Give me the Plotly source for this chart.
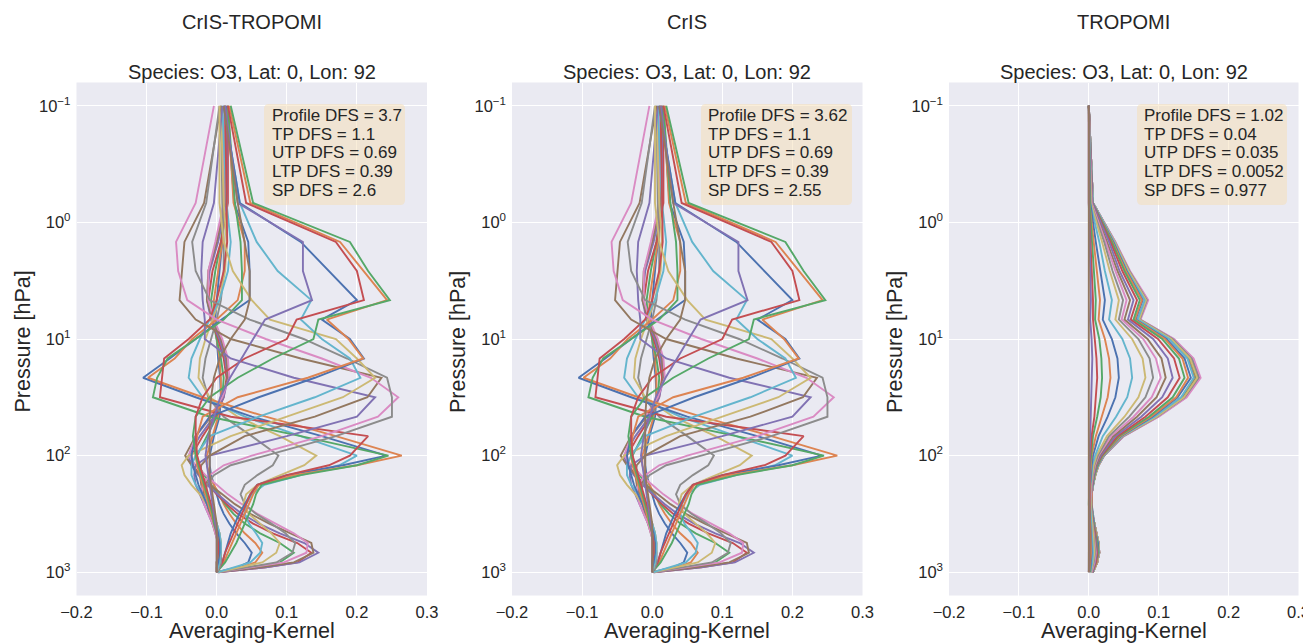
import plotly.graph_objects as go

# ---------------- data ----------------
pressure = [1000, 908, 825, 681, 562, 464, 383, 316, 261, 215, 178, 147, 121, 100,
            68.1, 46.4, 31.6, 21.5, 14.7, 10.0, 6.81, 4.64, 2.61, 1.47, 0.681, 0.1]

# CrIS averaging-kernel rows (values at each pressure level, surface -> top)
cris_r00 = [0.000, 0.030, 0.045, 0.050, 0.040, 0.028, 0.018, 0.010, 0.004, 0.000, -0.004, -0.008, -0.010, -0.010, -0.004, 0.004, 0.006, 0.005, 0.002, 0.000, -0.002, 0.000, 0.004, 0.008, 0.010, 0.010]
cris_r01 = [0.000, 0.035, 0.055, 0.065, 0.055, 0.040, 0.028, 0.018, 0.010, 0.004, -0.004, -0.010, -0.014, -0.014, -0.006, 0.002, 0.006, 0.006, 0.004, 0.000, -0.004, -0.004, 0.002, 0.008, 0.012, 0.012]
cris_r02 = [0.000, 0.055, 0.090, 0.110, 0.090, 0.062, 0.040, 0.024, 0.012, 0.002, -0.008, -0.018, -0.026, -0.028, -0.014, 0.000, 0.008, 0.010, 0.006, 0.000, -0.006, -0.008, -0.002, 0.006, 0.012, 0.014]
cris_r03 = [0.002, 0.070, 0.115, 0.135, 0.115, 0.080, 0.052, 0.030, 0.014, 0.000, -0.012, -0.024, -0.034, -0.036, -0.020, -0.002, 0.010, 0.014, 0.010, 0.002, -0.008, -0.012, -0.006, 0.006, 0.016, 0.016]
cris_r04 = [0.002, 0.070, 0.118, 0.145, 0.125, 0.090, 0.060, 0.036, 0.018, 0.002, -0.014, -0.026, -0.036, -0.040, -0.024, -0.004, 0.010, 0.016, 0.012, 0.004, -0.008, -0.014, -0.010, 0.002, 0.014, 0.014]
cris_r05 = [0.002, 0.062, 0.110, 0.138, 0.135, 0.105, 0.075, 0.048, 0.026, 0.008, -0.010, -0.024, -0.036, -0.045, -0.030, -0.008, 0.008, 0.016, 0.014, 0.006, -0.006, -0.014, -0.012, 0.000, 0.012, 0.012]
cris_r06 = [0.002, 0.052, 0.096, 0.128, 0.130, 0.110, 0.085, 0.058, 0.036, 0.016, 0.000, -0.016, -0.030, -0.040, -0.030, -0.010, 0.008, 0.018, 0.016, 0.008, -0.004, -0.012, -0.012, -0.002, 0.010, 0.010]
cris_r07 = [0.002, 0.045, 0.085, 0.108, 0.112, 0.098, 0.078, 0.056, 0.040, 0.034, 0.040, 0.058, 0.080, 0.088, 0.050, 0.010, -0.012, -0.020, -0.016, -0.008, 0.000, 0.006, 0.010, 0.010, 0.008, 0.006]
cris_r08 = [0.002, 0.035, 0.065, 0.085, 0.090, 0.078, 0.062, 0.046, 0.038, 0.042, 0.058, 0.090, 0.125, 0.142, 0.090, 0.030, -0.010, -0.026, -0.024, -0.016, -0.006, 0.004, 0.012, 0.014, 0.010, 0.006]
cris_r09 = [0.002, 0.025, 0.048, 0.062, 0.065, 0.056, 0.046, 0.040, 0.042, 0.050, 0.068, 0.120, 0.175, 0.200, 0.120, 0.040, -0.020, -0.040, -0.036, -0.024, -0.010, 0.004, 0.016, 0.020, 0.014, 0.008]
cris_r10 = [0.000, 0.004, 0.008, 0.012, 0.016, 0.020, 0.026, 0.032, 0.040, 0.048, 0.058, 0.100, 0.180, 0.242, 0.150, 0.050, -0.030, -0.105, -0.067, -0.030, 0.007, 0.047, 0.047, 0.045, 0.025, 0.015]
cris_r11 = [0.000, 0.005, 0.010, 0.016, 0.022, 0.028, 0.034, 0.040, 0.046, 0.052, 0.060, 0.110, 0.200, 0.264, 0.170, 0.070, -0.020, -0.098, -0.060, -0.035, 0.000, 0.030, 0.040, 0.040, 0.024, 0.016]
cris_r12 = [0.000, 0.006, 0.012, 0.020, 0.028, 0.034, 0.040, 0.046, 0.052, 0.056, 0.064, 0.120, 0.200, 0.245, 0.120, -0.010, -0.091, -0.085, -0.070, -0.030, 0.010, 0.036, 0.036, 0.034, 0.026, 0.016]
cris_r13 = [0.000, 0.004, 0.008, 0.012, 0.018, 0.024, 0.030, 0.036, 0.042, 0.048, 0.058, 0.100, 0.160, 0.190, 0.216, 0.020, -0.081, -0.078, -0.075, -0.040, -0.010, 0.000, 0.010, 0.015, 0.014, 0.012]
cris_r14 = [0.000, 0.004, 0.006, 0.006, 0.004, 0.000, -0.006, -0.012, -0.018, -0.024, -0.030, -0.032, -0.030, -0.010, 0.100, 0.200, 0.226, 0.110, 0.020, -0.017, -0.017, -0.020, -0.022, -0.020, -0.004, 0.008]
cris_r15 = [0.000, 0.002, 0.004, 0.004, 0.002, -0.002, -0.006, -0.010, -0.014, -0.018, -0.022, -0.024, -0.022, -0.010, 0.040, 0.140, 0.215, 0.235, 0.120, 0.020, -0.030, -0.053, -0.050, -0.046, -0.018, 0.006]
cris_r16 = [0.000, 0.002, 0.004, 0.004, 0.002, -0.002, -0.006, -0.012, -0.018, -0.022, -0.020, -0.010, 0.010, 0.050, 0.150, 0.230, 0.259, 0.220, 0.150, 0.070, 0.000, -0.042, -0.055, -0.058, -0.030, -0.004]
cris_r17 = [0.000, 0.004, 0.006, 0.006, 0.006, 0.004, 0.000, -0.006, -0.012, -0.016, -0.014, -0.004, 0.020, 0.070, 0.170, 0.250, 0.250, 0.243, 0.186, 0.124, 0.047, -0.010, -0.030, -0.035, -0.015, 0.004]
cris_r18 = [0.000, 0.002, 0.004, 0.006, 0.006, 0.004, 0.000, -0.006, -0.014, -0.024, -0.036, -0.046, -0.050, -0.040, 0.020, 0.100, 0.180, 0.226, 0.200, 0.170, 0.076, 0.050, 0.023, 0.010, 0.004, 0.004]
cris_r19 = [0.000, 0.002, 0.004, 0.006, 0.006, 0.004, 0.000, -0.006, -0.012, -0.020, -0.030, -0.036, -0.036, -0.030, -0.010, 0.060, 0.140, 0.205, 0.190, 0.150, 0.120, 0.135, 0.087, 0.057, 0.033, 0.010]
cris_r20 = [0.000, 0.000, 0.002, 0.004, 0.004, 0.002, -0.002, -0.008, -0.014, -0.020, -0.026, -0.030, -0.034, -0.036, -0.030, -0.010, 0.060, 0.140, 0.210, 0.190, 0.150, 0.200, 0.160, 0.120, 0.033, 0.010]
cris_r21 = [0.000, 0.000, 0.000, 0.002, 0.002, 0.000, -0.004, -0.008, -0.012, -0.016, -0.020, -0.024, -0.028, -0.030, -0.028, -0.020, 0.030, 0.130, 0.209, 0.188, 0.157, 0.243, 0.210, 0.176, 0.048, 0.018]
cris_r22 = [0.000, 0.000, 0.000, 0.002, 0.002, 0.000, -0.004, -0.006, -0.010, -0.014, -0.018, -0.022, -0.026, -0.030, -0.034, -0.030, -0.010, 0.030, 0.080, 0.138, 0.145, 0.247, 0.216, 0.190, 0.052, 0.020]
cris_r23 = [0.000, 0.000, 0.000, 0.002, 0.002, 0.000, -0.002, -0.004, -0.008, -0.012, -0.016, -0.020, -0.024, -0.028, -0.030, -0.030, -0.020, 0.000, 0.040, 0.100, 0.114, 0.210, 0.200, 0.170, 0.042, 0.016]
cris_r24 = [0.000, 0.000, 0.000, 0.000, 0.000, 0.000, -0.002, -0.004, -0.006, -0.008, -0.010, -0.012, -0.014, -0.016, -0.012, -0.004, 0.005, 0.019, 0.035, 0.052, 0.069, 0.136, 0.123, 0.123, 0.030, 0.012]
cris_r25 = [0.000, 0.000, 0.000, 0.000, 0.000, 0.000, 0.000, -0.002, -0.004, -0.006, -0.008, -0.010, -0.010, -0.010, -0.010, -0.010, -0.008, -0.004, 0.004, 0.020, 0.040, 0.047, 0.047, 0.040, 0.030, 0.010]

cris_rows = [cris_r00, cris_r01, cris_r02, cris_r03, cris_r04, cris_r05, cris_r06, cris_r07, cris_r08,
             cris_r09, cris_r10, cris_r11, cris_r12, cris_r13, cris_r14, cris_r15, cris_r16, cris_r17,
             cris_r18, cris_r19, cris_r20, cris_r21, cris_r22, cris_r23, cris_r24, cris_r25]

# CrIS-TROPOMI joint kernels look the same as CrIS at this scale
cris_tropomi_rows = cris_rows

# TROPOMI averaging-kernel rows
trop_r00 = [0.006, 0.009, 0.011, 0.014, 0.013, 0.010, 0.008, 0.005, 0.004, 0.004, 0.006, 0.009, 0.013, 0.021, 0.048, 0.095, 0.133, 0.152, 0.143, 0.116, 0.070, 0.081, 0.056, 0.036, 0.006, 0.000]
trop_r01 = [0.006, 0.009, 0.012, 0.014, 0.013, 0.011, 0.008, 0.005, 0.004, 0.004, 0.006, 0.009, 0.013, 0.021, 0.048, 0.096, 0.134, 0.153, 0.144, 0.117, 0.071, 0.081, 0.056, 0.036, 0.006, 0.000]
trop_r02 = [0.006, 0.009, 0.012, 0.015, 0.013, 0.011, 0.008, 0.005, 0.004, 0.004, 0.006, 0.009, 0.013, 0.021, 0.048, 0.096, 0.135, 0.154, 0.145, 0.118, 0.071, 0.082, 0.057, 0.037, 0.006, 0.000]
trop_r03 = [0.006, 0.009, 0.012, 0.015, 0.014, 0.011, 0.008, 0.005, 0.004, 0.004, 0.006, 0.009, 0.014, 0.021, 0.049, 0.097, 0.136, 0.155, 0.146, 0.118, 0.072, 0.082, 0.057, 0.037, 0.006, 0.000]
trop_r04 = [0.006, 0.009, 0.012, 0.015, 0.014, 0.011, 0.008, 0.005, 0.004, 0.004, 0.006, 0.009, 0.014, 0.022, 0.050, 0.099, 0.139, 0.158, 0.149, 0.121, 0.073, 0.084, 0.058, 0.038, 0.006, 0.000]
trop_r05 = [0.006, 0.009, 0.012, 0.015, 0.014, 0.011, 0.008, 0.005, 0.004, 0.004, 0.006, 0.009, 0.014, 0.021, 0.049, 0.098, 0.137, 0.156, 0.146, 0.119, 0.072, 0.083, 0.058, 0.037, 0.006, 0.000]
trop_r06 = [0.006, 0.009, 0.012, 0.015, 0.014, 0.011, 0.008, 0.005, 0.004, 0.004, 0.006, 0.009, 0.014, 0.022, 0.050, 0.100, 0.140, 0.160, 0.150, 0.122, 0.074, 0.085, 0.059, 0.038, 0.006, 0.000]
trop_r07 = [0.006, 0.009, 0.012, 0.015, 0.014, 0.011, 0.008, 0.005, 0.004, 0.004, 0.006, 0.009, 0.014, 0.022, 0.049, 0.098, 0.137, 0.157, 0.147, 0.120, 0.073, 0.083, 0.058, 0.037, 0.006, 0.000]
trop_r08 = [0.006, 0.009, 0.012, 0.015, 0.014, 0.011, 0.008, 0.005, 0.004, 0.004, 0.006, 0.009, 0.014, 0.021, 0.048, 0.097, 0.136, 0.155, 0.145, 0.118, 0.072, 0.082, 0.057, 0.037, 0.006, 0.000]
trop_r09 = [0.006, 0.008, 0.011, 0.014, 0.013, 0.010, 0.008, 0.005, 0.004, 0.004, 0.006, 0.008, 0.013, 0.021, 0.047, 0.094, 0.132, 0.150, 0.141, 0.115, 0.070, 0.080, 0.055, 0.036, 0.006, 0.000]
trop_r10 = [0.005, 0.008, 0.011, 0.014, 0.013, 0.010, 0.007, 0.005, 0.004, 0.004, 0.005, 0.008, 0.013, 0.020, 0.046, 0.091, 0.127, 0.146, 0.137, 0.111, 0.067, 0.077, 0.054, 0.035, 0.005, 0.000]
trop_r11 = [0.005, 0.008, 0.011, 0.013, 0.012, 0.010, 0.007, 0.004, 0.004, 0.004, 0.005, 0.008, 0.012, 0.020, 0.045, 0.089, 0.125, 0.142, 0.134, 0.109, 0.066, 0.076, 0.053, 0.034, 0.005, 0.000]
trop_r12 = [0.005, 0.008, 0.010, 0.013, 0.012, 0.009, 0.007, 0.004, 0.003, 0.003, 0.005, 0.008, 0.012, 0.019, 0.043, 0.086, 0.120, 0.137, 0.129, 0.105, 0.064, 0.073, 0.051, 0.033, 0.005, 0.000]
trop_r13 = [0.005, 0.007, 0.010, 0.012, 0.011, 0.009, 0.006, 0.004, 0.003, 0.003, 0.005, 0.007, 0.011, 0.018, 0.041, 0.081, 0.113, 0.130, 0.122, 0.099, 0.060, 0.069, 0.048, 0.031, 0.005, 0.000]
trop_r14 = [0.005, 0.007, 0.009, 0.011, 0.011, 0.008, 0.006, 0.004, 0.003, 0.003, 0.005, 0.007, 0.011, 0.017, 0.038, 0.075, 0.105, 0.120, 0.113, 0.092, 0.056, 0.064, 0.044, 0.029, 0.005, 0.000]
trop_r15 = [0.004, 0.006, 0.008, 0.010, 0.010, 0.008, 0.006, 0.003, 0.003, 0.003, 0.004, 0.006, 0.010, 0.015, 0.035, 0.069, 0.097, 0.110, 0.104, 0.084, 0.051, 0.059, 0.041, 0.026, 0.004, 0.000]
trop_r16 = [0.004, 0.006, 0.008, 0.010, 0.009, 0.007, 0.005, 0.003, 0.003, 0.003, 0.004, 0.006, 0.009, 0.014, 0.032, 0.064, 0.090, 0.103, 0.096, 0.078, 0.047, 0.054, 0.038, 0.024, 0.004, 0.000]
trop_r17 = [0.003, 0.005, 0.007, 0.009, 0.008, 0.006, 0.005, 0.003, 0.002, 0.002, 0.003, 0.005, 0.008, 0.013, 0.029, 0.058, 0.081, 0.092, 0.087, 0.071, 0.043, 0.049, 0.034, 0.022, 0.003, 0.000]
trop_r18 = [0.003, 0.005, 0.006, 0.008, 0.007, 0.006, 0.004, 0.003, 0.002, 0.002, 0.003, 0.005, 0.007, 0.011, 0.026, 0.051, 0.071, 0.081, 0.077, 0.062, 0.038, 0.043, 0.030, 0.019, 0.003, 0.000]
trop_r19 = [0.002, 0.004, 0.005, 0.006, 0.005, 0.004, 0.003, 0.002, 0.002, 0.002, 0.002, 0.004, 0.005, 0.009, 0.020, 0.039, 0.055, 0.062, 0.059, 0.048, 0.029, 0.033, 0.023, 0.015, 0.002, 0.000]
trop_r20 = [0.002, 0.002, 0.003, 0.004, 0.004, 0.003, 0.002, 0.001, 0.001, 0.001, 0.002, 0.002, 0.004, 0.006, 0.014, 0.027, 0.038, 0.043, 0.041, 0.033, 0.020, 0.023, 0.016, 0.010, 0.002, 0.000]
trop_r21 = [0.001, 0.002, 0.002, 0.003, 0.003, 0.002, 0.002, 0.001, 0.001, 0.001, 0.001, 0.002, 0.003, 0.004, 0.010, 0.019, 0.027, 0.031, 0.029, 0.023, 0.014, 0.016, 0.011, 0.007, 0.001, 0.000]
trop_r22 = [0.001, 0.001, 0.001, 0.002, 0.002, 0.001, 0.001, 0.001, 0.000, 0.000, 0.001, 0.001, 0.002, 0.003, 0.006, 0.012, 0.017, 0.019, 0.018, 0.015, 0.009, 0.010, 0.007, 0.005, 0.001, 0.000]
trop_r23 = [0.000, 0.001, 0.001, 0.001, 0.001, 0.001, 0.001, 0.000, 0.000, 0.000, 0.000, 0.001, 0.001, 0.002, 0.004, 0.008, 0.010, 0.012, 0.011, 0.009, 0.006, 0.006, 0.004, 0.003, 0.000, 0.000]
trop_r24 = [0.000, 0.000, 0.000, 0.001, 0.000, 0.000, 0.000, 0.000, 0.000, 0.000, 0.000, 0.000, 0.000, 0.001, 0.002, 0.003, 0.004, 0.005, 0.005, 0.004, 0.002, 0.003, 0.002, 0.001, 0.000, 0.000]
trop_r25 = [0.000, 0.000, 0.000, 0.000, 0.000, 0.000, 0.000, 0.000, 0.000, 0.000, 0.000, 0.000, 0.000, 0.000, 0.000, 0.001, 0.001, 0.001, 0.001, 0.001, 0.000, 0.001, 0.000, 0.000, 0.000, 0.000]

tropomi_rows = [trop_r00, trop_r01, trop_r02, trop_r03, trop_r04, trop_r05, trop_r06, trop_r07, trop_r08,
                trop_r09, trop_r10, trop_r11, trop_r12, trop_r13, trop_r14, trop_r15, trop_r16, trop_r17,
                trop_r18, trop_r19, trop_r20, trop_r21, trop_r22, trop_r23, trop_r24, trop_r25]

panel_titles = ["CrIS-TROPOMI", "CrIS", "TROPOMI"]
subtitle = "Species: O3, Lat: 0, Lon: 92"
dfs_text = [
    ["Profile DFS = 3.7", "TP DFS = 1.1", "UTP DFS = 0.69", "LTP DFS = 0.39", "SP DFS = 2.6"],
    ["Profile DFS = 3.62", "TP DFS = 1.1", "UTP DFS = 0.69", "LTP DFS = 0.39", "SP DFS = 2.55"],
    ["Profile DFS = 1.02", "TP DFS = 0.04", "UTP DFS = 0.035", "LTP DFS = 0.0052", "SP DFS = 0.977"],
]
x_ticks = [-0.2, -0.1, 0.0, 0.1, 0.2, 0.3]
x_ticktext = ["\u22120.2", "\u22120.1", "0.0", "0.1", "0.2", "0.3"]
y_ticks = [0.1, 1, 10, 100, 1000]
y_ticktext = ["10<sup>\u22121</sup>", "10<sup>0</sup>", "10<sup>1</sup>", "10<sup>2</sup>", "10<sup>3</sup>"]

palette = ['#4C72B0', '#DD8452', '#55A868', '#C44E52', '#8172B3',
           '#937860', '#DA8BC3', '#8C8C8C', '#CCB974', '#64B5CD']

# ---------------- layout helpers ----------------
# the page body has an 8 px margin, so all target pixel positions
# (measured on the 1311x644 picture) are shifted by 8 px
OFF = 8
W, H = 1303, 644 - OFF
FONT = "Liberation Sans, Arial, Helvetica, sans-serif"
TXT = "#262626"


def px(x):
    return (x - OFF) / W


def py(y):
    return 1 - (y - OFF) / H


panel_px = [(76.5, 427), (512, 862.5), (949, 1298.5)]
plot_top, plot_bot = 82.5, 595.5
box_px = [(264, 405), (701, 852), (1137, 1287)]
text_left = [270, 706, 1142]
box_top, box_bot = 104, 205
line_y = [115.7, 134.2, 152.9, 171.6, 190.4]

fig = go.Figure()
datasets = [cris_tropomi_rows, cris_rows, tropomi_rows]
for k, rows in enumerate(datasets):
    xa = 'x' if k == 0 else 'x%d' % (k + 1)
    ya = 'y' if k == 0 else 'y%d' % (k + 1)
    for i, row in enumerate(rows):
        fig.add_trace(go.Scatter(
            x=row, y=pressure, mode='lines', xaxis=xa, yaxis=ya,
            line=dict(color=palette[i % 10], width=1.9),
            showlegend=False, hoverinfo='skip'))

layout = dict(
    width=W, height=H,
    margin=dict(l=0, r=0, t=0, b=0, autoexpand=False),
    paper_bgcolor='white', plot_bgcolor='#EAEAF2',
    font=dict(family=FONT, color=TXT),
    showlegend=False,
)
annotations = []
shapes = []
for k in range(3):
    x0, x1 = panel_px[k]
    xname = 'xaxis' if k == 0 else 'xaxis%d' % (k + 1)
    yname = 'yaxis' if k == 0 else 'yaxis%d' % (k + 1)
    yref = 'y' if k == 0 else 'y%d' % (k + 1)
    xref = 'x' if k == 0 else 'x%d' % (k + 1)
    layout[xname] = dict(
        domain=[px(x0), px(x1)], anchor=yref, range=[-0.2, 0.3], automargin=False,
        tickvals=x_ticks, ticktext=x_ticktext, tickfont=dict(size=16.5, color=TXT, family=FONT),
        ticklabelstandoff=5, ticklabeloverflow='allow',
        showgrid=True, gridcolor='white', gridwidth=1.3, zeroline=False,
        showline=False, ticks='', ticklen=0)
    layout[yname] = dict(
        domain=[py(plot_bot), py(plot_top)], anchor=xref, type='log', automargin=False,
        range=[3.2, -1.2], tickvals=y_ticks, ticktext=y_ticktext,
        tickfont=dict(size=16.5, color=TXT, family=FONT), ticklabelstandoff=5,
        ticklabeloverflow='allow',
        showgrid=True, gridcolor='white', gridwidth=1.3, zeroline=False,
        showline=False, ticks='', ticklen=0)
    cx = (x0 + x1) / 2
    annotations.append(dict(text=panel_titles[k], x=px(cx), y=py(22), xref='paper', yref='paper',
                            showarrow=False, xanchor='center', yanchor='middle',
                            font=dict(size=20, color=TXT, family=FONT)))
    annotations.append(dict(text=subtitle, x=px(cx), y=py(72), xref='paper', yref='paper',
                            showarrow=False, xanchor='center', yanchor='middle',
                            font=dict(size=20, color=TXT, family=FONT)))
    annotations.append(dict(text="Averaging-Kernel", x=px(cx), y=py(631), xref='paper', yref='paper',
                            showarrow=False, xanchor='center', yanchor='middle',
                            font=dict(size=21.5, color=TXT, family=FONT)))
    annotations.append(dict(text="Pressure [hPa]", x=px(x0 - 54), y=py(342), xref='paper', yref='paper',
                            showarrow=False, xanchor='center', yanchor='middle', textangle=-90,
                            font=dict(size=21.5, color=TXT, family=FONT)))
    for j, t in enumerate(dfs_text[k]):
        annotations.append(dict(text=t, x=px(text_left[k]), y=py(line_y[j]), xref='paper', yref='paper',
                                showarrow=False, xanchor='left', yanchor='middle',
                                font=dict(size=17, color=TXT, family=FONT)))
    bx0, bx1 = box_px[k]
    r = 5
    rx, ry = r / W, r / H
    X0, X1, Y0, Y1 = px(bx0), px(bx1), py(box_bot), py(box_top)
    path = (f"M {X0+rx},{Y0} L {X1-rx},{Y0} Q {X1},{Y0} {X1},{Y0+ry} "
            f"L {X1},{Y1-ry} Q {X1},{Y1} {X1-rx},{Y1} L {X0+rx},{Y1} "
            f"Q {X0},{Y1} {X0},{Y1-ry} L {X0},{Y0+ry} Q {X0},{Y0} {X0+rx},{Y0} Z")
    shapes.append(dict(type='path', path=path, xref='paper', yref='paper',
                       fillcolor='rgba(245,222,179,0.5)', line=dict(width=0), layer='above'))

layout['annotations'] = annotations
layout['shapes'] = shapes
fig.update_layout(**layout)
fig.write_html("out.html")
